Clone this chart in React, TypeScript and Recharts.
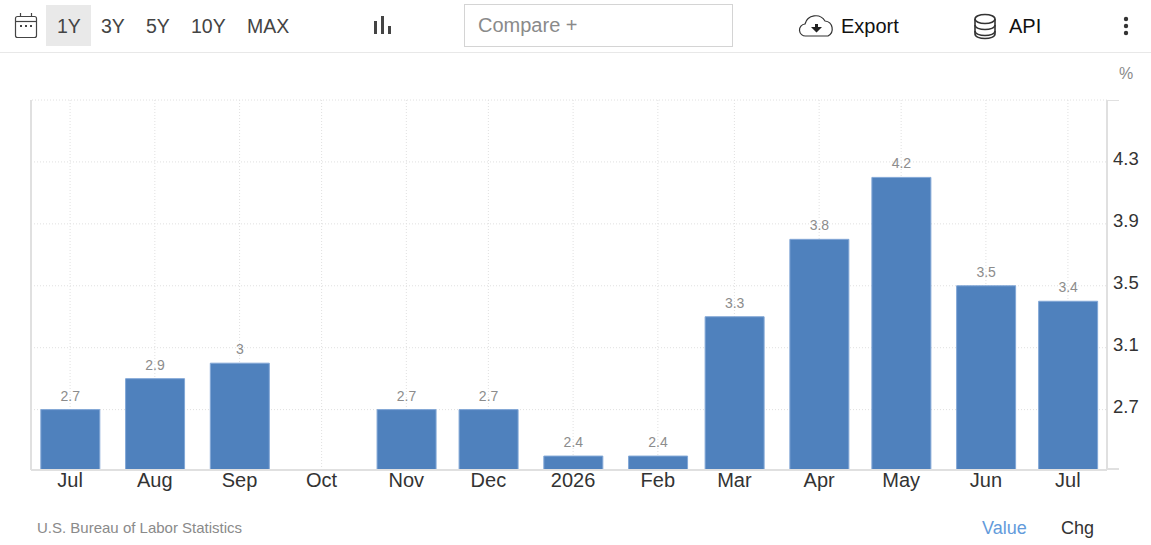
import React from 'react'
import { ComposedChart, Bar, XAxis, YAxis, CartesianGrid, LabelList, ReferenceLine } from 'recharts'

const months = [
  '2025-07-01', '2025-08-01', '2025-09-01', '2025-10-01', '2025-11-01', '2025-12-01', '2026-01-01',
  '2026-02-01', '2026-03-01', '2026-04-01', '2026-05-01', '2026-06-01', '2026-07-01',
]
const monthLabels = ['Jul', 'Aug', 'Sep', 'Oct', 'Nov', 'Dec', '2026', 'Feb', 'Mar', 'Apr', 'May', 'Jun', 'Jul']
const values = [2.7, 2.9, 3, null, 2.7, 2.7, 2.4, 2.4, 3.3, 3.8, 4.2, 3.5, 3.4]
const yTicks = [2.7, 3.1, 3.5, 3.9, 4.3]
const ranges = ['1Y', '3Y', '5Y', '10Y', 'MAX']
const rangeX = [57, 101, 146, 191, 247]

const DAY = 86400000
const times = months.map((m) => Date.parse(m))
const data = times.map((t, i) => ({ t, value: values[i] }))
const xMin = times[0] - 14.3 * DAY
const xMax = times[times.length - 1] + 14.3 * DAY
const yMin = 2.31
const yMax = 4.7

const FONT = 'Arial, "Liberation Sans", sans-serif'
const GRID = '#e0e0e0'

const Txt: React.FC<{ x: number; y: number; size: number; color: string; children: React.ReactNode }> = ({
  x, y, size, color, children,
}) => (
  <div style={{ position: 'absolute', left: x, top: y, fontSize: size, color, lineHeight: '22px', whiteSpace: 'nowrap' }}>
    {children}
  </div>
)

const App: React.FC = () => {
  return (
    <div style={{ position: 'absolute', left: 0, top: 0, width: 1151, height: 545, overflow: 'hidden', background: '#fff', fontFamily: FONT }}>
      {/* toolbar */}
      <svg width={1151} height={53} style={{ position: 'absolute', left: 0, top: 0 }}>
        <rect x={46} y={5} width={45} height={41} fill="#e9e9e9" />
        <line x1={0} x2={1151} y1={52.5} y2={52.5} stroke="#e8e8e8" />
        <g fill="none" stroke="#444" strokeWidth={1.2}>
          <rect x={15.5} y={16.5} width={21} height={21} rx={2} />
          <line x1={16} x2={36} y1={21.5} y2={21.5} />
          <line x1={20.5} x2={20.5} y1={13} y2={17} />
          <line x1={31.5} x2={31.5} y1={13} y2={17} />
        </g>
        <g fill="#444">
          <rect x={20} y={25} width={2} height={2} />
          <rect x={25} y={25} width={2} height={2} />
          <rect x={30} y={25} width={2} height={2} />
          <rect x={374} y={21} width={3} height={13} />
          <rect x={381} y={16} width={3} height={18} />
          <rect x={388} y={26} width={3} height={8} />
        </g>
        <path d="M806 36 a6 6 0 0 1 -1 -12 a11 11 0 0 1 20 -3 a8 8 0 0 1 3 15 z" fill="none" stroke="#333" strokeWidth={1.2} />
        <path d="M811 26 h4 v-3 h3 v3 h4 l-5.500 5.500 z" transform="translate(0 1)" fill="#222" />
        <g fill="none" stroke="#333" strokeWidth={1.6}>
          <ellipse cx={985} cy={19} rx={10} ry={4.500} />
          <path d="M975 19 v15 c0 6 20 6 20 0 v-15" />
          <path d="M975 25 c0 6 20 6 20 0" />
          <path d="M975 31 c0 6 20 6 20 0" />
        </g>
        <circle cx={1126} cy={19} r={2.200} fill="#333" />
        <circle cx={1126} cy={26} r={2.200} fill="#333" />
        <circle cx={1126} cy={33} r={2.200} fill="#333" />
      </svg>
      {ranges.map((r, i) => (
        <Txt key={r} x={rangeX[i]} y={15} size={19.5} color="#444">
          {r}
        </Txt>
      ))}
      <div style={{ position: 'absolute', left: 464, top: 4, width: 267, height: 41, border: '1px solid #d4d4d4' }} />
      <Txt x={478} y={14} size={20} color="#8a8a8a">Compare +</Txt>
      <Txt x={841} y={15} size={20} color="#111">Export</Txt>
      <Txt x={1009} y={15} size={20} color="#111">API</Txt>
      <Txt x={1119} y={63} size={16} color="#8a8a8a">%</Txt>

      <div style={{ position: 'absolute', left: 0, top: 0 }}>
        <ComposedChart width={1151} height={545} data={data} margin={{ top: 100, right: 0, bottom: 0, left: 31 }}>
          <CartesianGrid stroke={GRID} strokeDasharray="1 2" syncWithTicks />
          <ReferenceLine y={yMax} stroke={GRID} strokeDasharray="1 2" />
          <ReferenceLine x={xMin} stroke={GRID} strokeWidth={2} />
          <XAxis
            dataKey="t"
            type="number"
            scale="linear"
            domain={[xMin, xMax]}
            ticks={times}
            interval={0}
            height={75}
            tickSize={0}
            tickMargin={3}
            tickFormatter={(t: number) => monthLabels[times.indexOf(t)]}
            axisLine={{ stroke: GRID, strokeWidth: 2 }}
            tickLine={false}
            tick={{ fontSize: 20, fill: '#333', fontFamily: FONT }}
          />
          <YAxis
            orientation="right"
            type="number"
            domain={[yMin, yMax]}
            allowDataOverflow
            ticks={yTicks}
            interval={0}
            width={44}
            tickSize={0}
            tickMargin={6}
            axisLine={{ stroke: GRID, strokeWidth: 2 }}
            tickLine={false}
            tick={{ fontSize: 18.500, fill: '#333', fontFamily: FONT, textAnchor: 'start', dy: -3 }}
          />
          <Bar dataKey="value" barSize={59} fill="#4f81bd" stroke="#82a7d6" strokeWidth={1} isAnimationActive={false}>
            <LabelList dataKey="value" position="top" offset={9} fontSize={14} fill="#8c8c8c" stroke="none" fontFamily={FONT} />
          </Bar>
          <line x1={1107} x2={1119} y1={100.5} y2={100.5} stroke={GRID} />
          <line x1={1107} x2={1119} y1={469} y2={469} stroke={GRID} strokeWidth={2} />
        </ComposedChart>
      </div>

      <Txt x={37} y={517} size={15} color="#8a8a8a">U.S. Bureau of Labor Statistics</Txt>
      <Txt x={982} y={517} size={18} color="#639bdb">Value</Txt>
      <Txt x={1061} y={517} size={18} color="#333">Chg</Txt>
    </div>
  )
}

export default App
